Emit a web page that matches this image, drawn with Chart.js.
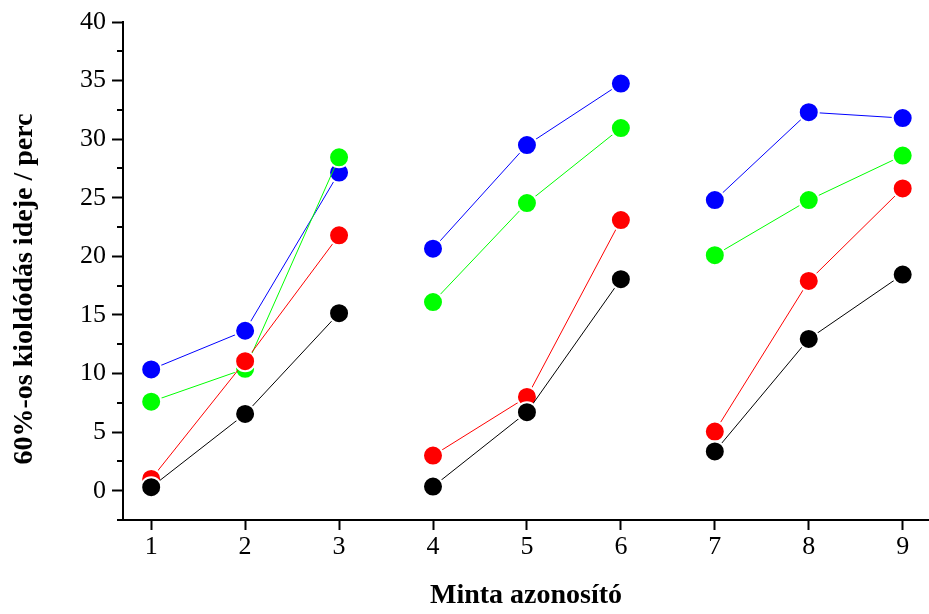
<!DOCTYPE html>
<html>
<head>
<meta charset="utf-8">
<script src="https://cdn.jsdelivr.net/npm/chart.js@4/dist/chart.umd.min.js"></script>
<style>
  html, body { margin: 0; padding: 0; background: #fff; }
  #wrap { width: 929px; height: 614px; }
</style>
</head>
<body>
<div id="wrap"><canvas id="grafica" width="929" height="614"></canvas></div>
<script>
// minta azonosítók, a vonalak a 3. és 6. után megszakadnak
const categories = [1, 2, 3, 4, 5, 6, 7, 8, 9];
const groupEnds = [3, 6];

// 60%-os kioldódás ideje (perc), leolvasva
const blackValues = [0.3, 6.55, 15.15, 0.35, 6.7, 18.05, 3.35, 12.95, 18.45];
const redValues = [1.0, 11.05, 21.8, 3.0, 8.0, 23.1, 5.05, 17.9, 25.8];
const greenValues = [7.6, 10.4, 28.45, 16.1, 24.55, 30.95, 20.1, 24.8, 28.6];
const blueValues = [10.35, 13.65, 27.15, 20.65, 29.5, 34.75, 24.8, 32.3, 31.8];

const yTicks = [0, 5, 10, 15, 20, 25, 30, 35, 40];
const yMinorTicks = [2.5, 7.5, 12.5, 17.5, 22.5, 27.5, 32.5, 37.5];

const yCim = "60%-os kioldódás ideje / perc";
const xCim = "Minta azonosító";

const fontFamily = "'Liberation Serif', 'Times New Roman', serif";

function toPoints(values) {
  const pts = [];
  categories.forEach((c, i) => {
    pts.push({ x: c, y: values[i] });
    if (groupEnds.includes(c)) pts.push({ x: c + 0.5, y: null }); // szakadás
  });
  return pts;
}

function sorozat(values, color) {
  return {
    data: toPoints(values),
    borderColor: color,
    backgroundColor: color,
    borderWidth: 1,
    pointRadius: 10,
    pointHoverRadius: 10,
    pointBackgroundColor: color,
    pointBorderColor: "#fff",
    pointBorderWidth: 2,
    spanGaps: false,
    clip: false,
  };
}

// kis osztásjelek az y tengelyen, x tengely túlnyúlása, y tengely felirata
const tengelyPlugin = {
  id: "tengely",
  afterDraw(chart) {
    const ctx = chart.ctx;
    const y = chart.scales.y;
    const area = chart.chartArea;
    ctx.save();
    ctx.strokeStyle = "#000";
    ctx.lineWidth = 2;
    yMinorTicks.forEach((v) => {
      const p = Math.round(y.getPixelForValue(v));
      ctx.beginPath();
      ctx.moveTo(area.left - 6, p);
      ctx.lineTo(area.left, p);
      ctx.stroke();
    });
    ctx.beginPath();
    ctx.moveTo(area.left - 6, area.bottom);
    ctx.lineTo(area.left, area.bottom);
    ctx.stroke();

    ctx.translate(25, 289);
    ctx.rotate(-Math.PI / 2);
    ctx.fillStyle = "#000";
    ctx.font = "bold 28px " + fontFamily;
    ctx.textAlign = "center";
    ctx.textBaseline = "middle";
    ctx.fillText(yCim, 0, 0);
    ctx.restore();
  },
};

new Chart(document.getElementById("grafica").getContext("2d"), {
  type: "line",
  data: {
    datasets: [
      sorozat(blackValues, "#000000"),
      sorozat(redValues, "#ff0000"),
      sorozat(greenValues, "#00ff00"),
      sorozat(blueValues, "#0000ff"),
    ],
  },
  options: {
    responsive: false,
    animation: false,
    layout: { autoPadding: false, padding: { top: 22, right: 0, left: 0, bottom: 0 } },
    plugins: { legend: { display: false }, tooltip: { enabled: false } },
    scales: {
      x: {
        type: "linear",
        min: 0.7,
        max: 9.28,
        afterBuildTicks: (scale) => {
          scale.ticks = categories.map((v) => ({ value: v }));
        },
        afterFit: (scale) => {
          scale.height = 94;
          scale.paddingRight = 0;
          scale.paddingLeft = 0;
        },
        border: { display: true, color: "#000", width: 2 },
        grid: {
          drawOnChartArea: false,
          drawTicks: true,
          tickLength: 10,
          tickColor: "#000",
          tickWidth: 2,
        },
        ticks: {
          color: "#000",
          padding: 2,
          maxRotation: 0,
          font: { family: fontFamily, size: 26 },
          callback: (v) => String(v),
        },
        title: {
          display: true,
          text: xCim,
          color: "#000",
          font: { family: fontFamily, size: 28, weight: "bold" },
          padding: { top: 0, bottom: 1 },
        },
      },
      y: {
        type: "linear",
        min: -2.5,
        max: 40,
        afterBuildTicks: (scale) => {
          scale.ticks = yTicks.map((v) => ({ value: v }));
        },
        afterFit: (scale) => {
          scale.width = 123;
        },
        border: { display: true, color: "#000", width: 2 },
        grid: {
          drawOnChartArea: false,
          drawTicks: true,
          tickLength: 11,
          tickColor: "#000",
          tickWidth: 2,
        },
        ticks: {
          color: "#000",
          padding: 6,
          font: { family: fontFamily, size: 26 },
          callback: (v) => String(v),
        },
        title: { display: false },
      },
    },
  },
  plugins: [tengelyPlugin],
});
</script>
</body>
</html>
